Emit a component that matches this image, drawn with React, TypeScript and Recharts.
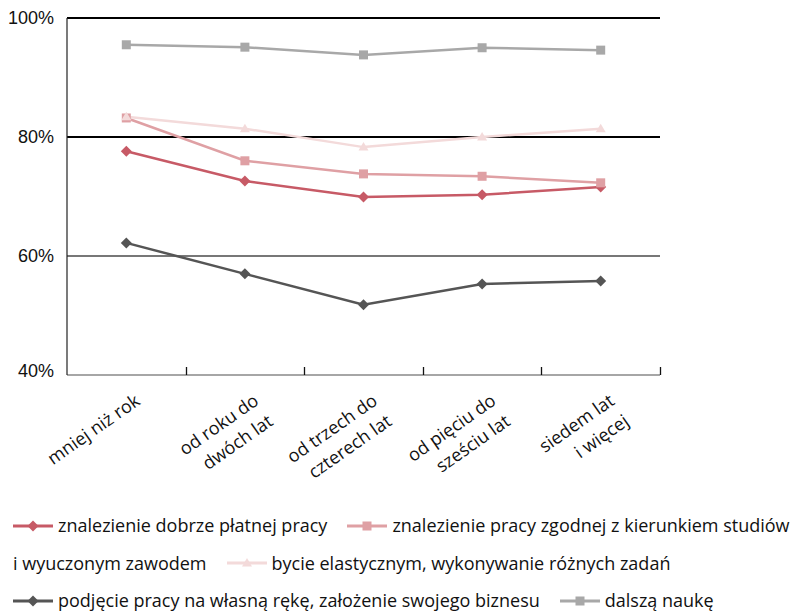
import { LineChart, Line, XAxis, YAxis, ReferenceLine } from 'recharts';

// kategorie: staż pracy
const categories = [
  'mniej niż rok',
  'od roku do\ndwóch lat',
  'od trzech do\nczterech lat',
  'od pięciu do\nsześciu lat',
  'siedem lat\ni więcej',
];

// wartości w %
const dobrzePlatna = [77.6, 72.6, 69.9, 70.3, 71.6];
const zgodnaZKierunkiem = [83.2, 76.0, 73.8, 73.4, 72.3];
const elastycznosc = [83.4, 81.4, 78.3, 80.0, 81.4];
const wlasnyBiznes = [62.2, 57.0, 51.8, 55.3, 55.8];
const dalszaNauka = [95.5, 95.1, 93.8, 95.0, 94.6];

const yTicks = [40, 60, 80, 100];

const series = [
  { key: 'dobrzePlatna', name: 'znalezienie dobrze płatnej pracy', color: '#c75a66', shape: 'diamond', values: dobrzePlatna },
  { key: 'zgodna', name: 'znalezienie pracy zgodnej z\u00a0kierunkiem studiów i\u00a0wyuczonym zawodem', color: '#dfa0a4', shape: 'square', values: zgodnaZKierunkiem },
  { key: 'elastycznosc', name: 'bycie elastycznym, wykonywanie różnych zadań', color: '#f3dada', shape: 'triangle', values: elastycznosc },
  { key: 'biznes', name: 'podjęcie pracy na własną rękę, założenie swojego biznesu', color: '#555555', shape: 'diamond', values: wlasnyBiznes },
  { key: 'nauka', name: 'dalszą naukę', color: '#a8a8a8', shape: 'square', values: dalszaNauka },
];

const data = categories.map((cat, i) => {
  const row: Record<string, string | number> = { cat };
  series.forEach(s => { row[s.key] = s.values[i]; });
  return row;
});

const WIDTH = 797;
const MARGIN = { top: 18, right: 137, left: 0, bottom: 0 };
const Y_WIDTH = 67;
const PLOT_WIDTH = WIDTH - MARGIN.right - MARGIN.left - Y_WIDTH;
const STEP = PLOT_WIDTH / categories.length;

const LABEL_FONT = "'Open Sans', sans-serif";

function Marker({ cx, cy, shape, color }: { cx: number; cy: number; shape: string; color: string }) {
  if (shape === 'diamond') {
    const r = 5.5;
    return <polygon points={`${cx},${cy - r} ${cx + r},${cy} ${cx},${cy + r} ${cx - r},${cy}`} fill={color} />;
  }
  if (shape === 'square') {
    const h = 4.5;
    return <rect x={cx - h} y={cy - h} width={h * 2} height={h * 2} fill={color} />;
  }
  return <polygon points={`${cx},${cy - 5} ${cx + 5},${cy + 3.5} ${cx - 5},${cy + 3.5}`} fill={color} />;
}

const makeDot = (shape: string, color: string) => (props: any) => {
  if (props.cx == null || props.cy == null) return <g key={props.key} />;
  return <Marker key={props.key} cx={props.cx} cy={props.cy} shape={shape} color={color} />;
};

// etykieta kategorii + kreska oddzielająca kategorie
function CategoryTick(props: any) {
  const x = Number(props.x);
  const y = Number(props.y);
  const lines = String(props.payload.value).split('\n');
  const sep = Math.round(x + STEP / 2) + 0.5;
  return (
    <g>
      <path d={`M${sep},${y - 8}L${sep},${y}`} stroke="#111" strokeWidth={1.3} fill="none" />
      <g transform={`translate(${x},${y}) rotate(-35)`}>
        {lines.map((line, i) => (
          <text
            key={i}
            x={-4}
            y={32 + i * 25}
            textAnchor="end"
            fontSize={18}
            fontFamily={LABEL_FONT}
            fill="#111"
          >
            {line}
          </text>
        ))}
      </g>
    </g>
  );
}

function PercentTick({ x, y, payload }: any) {
  const shift = payload.value === yTicks[0] ? -4 : 0;
  return (
    <text x={x} y={y + shift} dy="0.355em" textAnchor="end" fontSize={18}
      fontFamily="'Liberation Sans', Arial, sans-serif" fill="#111">
      {payload.value}%
    </text>
  );
}

function LegendIcon({ shape, color }: { shape: string; color: string }) {
  return (
    <svg width={40} height={14} style={{ verticalAlign: 'middle', marginRight: 5, marginTop: -3 }}>
      <line x1={0} y1={7} x2={40} y2={7} stroke={color} strokeWidth={3} />
      <Marker cx={20} cy={7} shape={shape} color={color} />
    </svg>
  );
}

function ChartLegend() {
  return (
    <div
      style={{
        position: 'absolute',
        top: 507,
        left: 13,
        width: 784,
        fontFamily: LABEL_FONT,
        fontSize: 18,
        lineHeight: '37.5px',
        color: '#111',
      }}
    >
      {series.map(s => {
        const [first, ...rest] = s.name.split(' ');
        return (
          <span key={s.key} style={{ marginRight: 20 }}>
            <span style={{ whiteSpace: 'nowrap' }}>
              <LegendIcon shape={s.shape} color={s.color} />
              {first}
            </span>
            {rest.length ? ' ' + rest.join(' ') : ''}
          </span>
        );
      })}
    </div>
  );
}

export default function App() {
  return (
    <div style={{ position: 'absolute', left: 0, top: 0, width: WIDTH, height: 611, background: '#fff', overflow: 'hidden' }}>
      <LineChart width={WIDTH} height={480} data={data} margin={MARGIN}>
        <XAxis
          dataKey="cat"
          height={105}
          padding={{ left: STEP / 2, right: STEP / 2 }}
          axisLine={{ stroke: '#888', strokeWidth: 1.5 }}
          tickLine={false}
          tickSize={0}
          tickMargin={0}
          interval={0}
          tick={CategoryTick}
        />
        <YAxis
          width={Y_WIDTH}
          domain={[40, 100]}
          ticks={yTicks}
          axisLine={{ stroke: '#222', strokeWidth: 1.2 }}
          tickLine={false}
          tickSize={6}
          tickMargin={7}
          tick={<PercentTick />}
        />
        <ReferenceLine y={100} stroke="#000" strokeWidth={1.3} shapeRendering="crispEdges" />
        <ReferenceLine y={80} stroke="#000" strokeWidth={1.3} shapeRendering="crispEdges" />
        <ReferenceLine y={60} stroke="#777" strokeWidth={1.3} shapeRendering="crispEdges" />
        {series.map(s => (
          <Line
            key={s.key}
            type="linear"
            dataKey={s.key}
            name={s.name}
            stroke={s.color}
            strokeWidth={2.5}
            dot={makeDot(s.shape, s.color)}
            activeDot={false}
            isAnimationActive={false}
          />
        ))}
      </LineChart>
      <ChartLegend />
    </div>
  );
}
